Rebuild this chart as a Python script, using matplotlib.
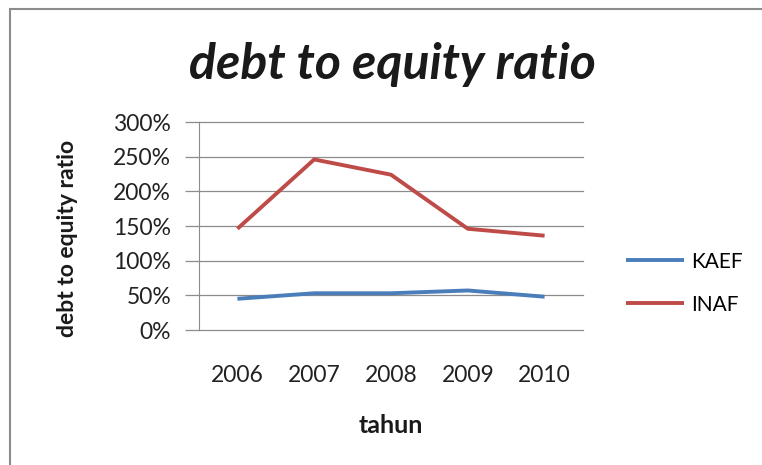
import matplotlib.pyplot as plt
import matplotlib.ticker as ticker
from matplotlib.patches import Rectangle

years = ["2006", "2007", "2008", "2009", "2010"]
kaef = [45, 53, 53, 57, 48]
inaf = [146, 246, 224, 146, 136]
yticks = [0, 50, 100, 150, 200, 250, 300]

font = "Lato"

fig = plt.figure(figsize=(7.62, 4.65), dpi=100)
fig.patches.append(Rectangle((10 / 762, -0.1), 1.1, 1 - 9 / 465 + 0.1, transform=fig.transFigure,
                             fill=False, edgecolor="#8c8c8c", linewidth=1.5))

ax = fig.add_axes([199 / 762, 1 - 330 / 465, 384 / 762, 208 / 465])

x = range(len(years))
ax.plot(x, kaef, color="#4a7ebb", linewidth=2.8, label="KAEF", solid_capstyle="butt")
ax.plot(x, inaf, color="#be4b48", linewidth=2.8, label="INAF", solid_capstyle="butt")

ax.set_xlim(-0.5, len(years) - 0.5)
ax.set_ylim(0, 300)
ax.set_yticks(yticks)
ax.yaxis.set_major_formatter(ticker.FuncFormatter(lambda v, p: f"{v:.0f}%"))
ax.set_xticks(list(x))
ax.set_xticklabels(years)

ax.grid(axis="y", color="#8c8c8c", linewidth=0.9)
for gl in ax.get_ygridlines():
    gl.set_clip_on(False)
ax.set_axisbelow(True)
for s in ["top", "right", "bottom"]:
    ax.spines[s].set_visible(False)
ax.spines["left"].set_color("#8c8c8c")
ax.tick_params(axis="y", length=10, color="#8c8c8c", width=0.9, pad=10, labelsize=16.5, labelcolor="#222222")
ax.tick_params(axis="x", length=0, pad=25, labelsize=16.5, labelcolor="#222222")
for lab in ax.get_xticklabels() + ax.get_yticklabels():
    lab.set_fontfamily(font)

ax.set_xlabel("tahun", fontsize=18, fontweight="bold", fontfamily=font, color="#1a1a1a")
ax.xaxis.set_label_coords(0.5, -(425 - 330) / 208, transform=ax.transAxes)
ax.xaxis.label.set_va("center")
ax.set_ylabel("debt to equity ratio", fontsize=16.5, fontweight="bold", fontfamily=font, color="#1a1a1a")
ax.yaxis.set_label_coords((67 - 199) / 384, (330 - 238) / 208)
ax.yaxis.label.set_va("center")

fig.text(392 / 762, 1 - 64 / 465, "debt to equity ratio", ha="center", va="center",
         fontsize=36, fontweight="bold", fontstyle="italic", fontfamily=font, color="#1a1a1a")

ax.legend(loc="upper left", bbox_to_anchor=(607 / 762, 1 - 233 / 465), bbox_transform=fig.transFigure,
          frameon=False, handlelength=2.8, handletextpad=0.35, labelspacing=1.1,
          prop={"family": font, "size": 15})

plt.savefig("out.png", dpi=100)
